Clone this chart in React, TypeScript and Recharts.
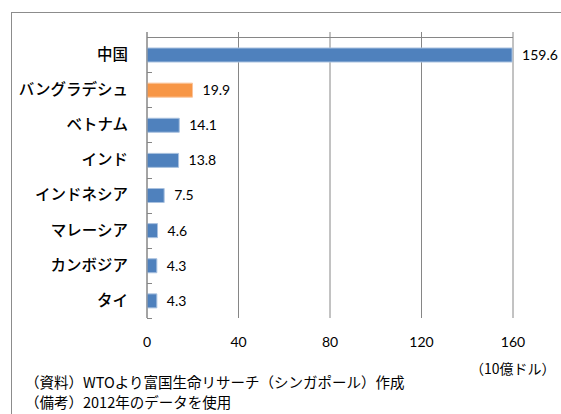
import React from "react"
import { BarChart, Bar, XAxis, YAxis, CartesianGrid, Cell, LabelList } from "recharts"

// 2012年 輸出額（10億ドル）
const countries = ["中国", "バングラデシュ", "ベトナム", "インド", "インドネシア", "マレーシア", "カンボジア", "タイ"]
const values = [159.6, 19.9, 14.1, 13.8, 7.5, 4.6, 4.3, 4.3]
const xTicks = [0, 40, 80, 120, 160]
const highlight = "バングラデシュ"

const data = countries.map((name, i) => ({ name, value: values[i] }))

const FONT = "Lato, 'Noto Sans CJK JP', sans-serif"
const JP = "'Noto Sans CJK JP', sans-serif"
const GRID = "#868686"
const CHART_W = 561
const CHART_H = 414
const Y_AXIS_W = 147
const X_AXIS_H = 30
const MARGIN = { top: 32, right: 48, bottom: 66, left: 0 }
const TOP_PAD = 5 // gridlines poke above the plot frame like Excel tick marks
const PLOT_X = MARGIN.left + Y_AXIS_W
const PLOT_W = CHART_W - MARGIN.left - MARGIN.right - Y_AXIS_W
const BAND_TOP = MARGIN.top + TOP_PAD
const BAND = (CHART_H - MARGIN.top - MARGIN.bottom - X_AXIS_H - TOP_PAD) / countries.length

function CategoryTick(props: any) {
  const { x, y, payload } = props
  return (
    <text x={x} y={y} dy="0.35em" textAnchor="end" fontFamily={JP} fontSize={15.5} fontWeight={500} fill="#000">
      {payload.value}
    </text>
  )
}

// plot frame top edge + small ticks between category bands (Excel style)
function FrameOverlay() {
  return (
    <>
      <div style={{ position: "absolute", left: PLOT_X, top: BAND_TOP, width: PLOT_W, height: 0, borderTop: `1px solid ${GRID}` }} />
      {countries.map((c, i) => (
        <div
          key={c}
          style={{ position: "absolute", left: PLOT_X, top: Math.round(BAND_TOP + (i + 1) * BAND), width: 5, height: 0, borderTop: `1px solid ${GRID}` }}
        />
      ))}
    </>
  )
}

export default function App() {
  return (
    <div style={{ position: "fixed", left: 0, top: 0, width: 561, height: 414, background: "#fff", overflow: "hidden" }}>
      {/* outer frame */}
      <div style={{ position: "absolute", left: 11, top: 12, width: 600, height: 500, borderLeft: "1px solid #8c8c8c", borderTop: "1px solid #8c8c8c" }} />

      <div style={{ position: "absolute", left: 0, top: 0 }}>
        <BarChart
          width={CHART_W}
          height={CHART_H}
          data={data}
          layout="vertical"
          margin={MARGIN}
          barSize={14}
        >
          <CartesianGrid horizontal={false} stroke={GRID} strokeWidth={1} />
          <XAxis
            type="number"
            domain={[0, 160]}
            ticks={xTicks}
            height={X_AXIS_H}
            axisLine={false}
            tickLine={false}
            tickSize={0}
            tickMargin={19}
            tick={{ fontSize: 14, fill: "#000", fontFamily: FONT }}
          />
          <YAxis
            type="category"
            dataKey="name"
            width={Y_AXIS_W}
            padding={{ top: TOP_PAD, bottom: 0 }}
            axisLine={{ stroke: GRID }}
            tickLine={false}
            tickSize={0}
            tickMargin={19}
            tick={<CategoryTick />}
            interval={0}
          />
          <Bar dataKey="value" isAnimationActive={false} stroke="#a9c1df" strokeWidth={1}>
            {data.map((d) => (
              <Cell key={d.name} fill={d.name === highlight ? "#f79646" : "#4f81bd"} stroke={d.name === highlight ? "#fbc49a" : "#a9c1df"} />
            ))}
            <LabelList dataKey="value" position="right" offset={10} fontSize={14} fill="#000" fontFamily={FONT} formatter={(v: any) => Number(v).toFixed(1)} />
          </Bar>
        </BarChart>
      </div>

      <FrameOverlay />

      <div style={{ position: "absolute", left: 470, top: 358, fontFamily: JP, fontSize: 14, lineHeight: "20px", color: "#000", whiteSpace: "nowrap" }}>
        （10億ドル）
      </div>
      <div style={{ position: "absolute", left: 25, top: 372, fontFamily: JP, fontSize: 14.5, lineHeight: "20px", color: "#000", whiteSpace: "nowrap" }}>
        <div>（資料）WTOより富国生命リサーチ（シンガポール）作成</div>
        <div>（備考）2012年のデータを使用</div>
      </div>
    </div>
  )
}
